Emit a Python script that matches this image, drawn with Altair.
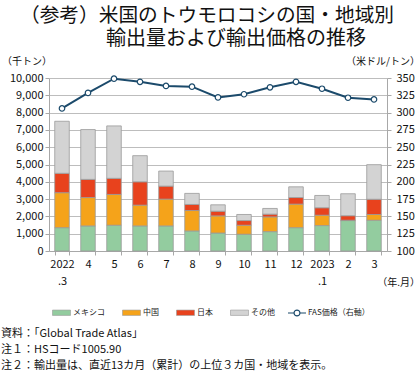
import altair as alt
import pandas as pd

months = ["2022.3", "4", "5", "6", "7", "8", "9", "10", "11", "12", "2023.1", "2", "3"]
mexico = [1350, 1450, 1490, 1450, 1450, 1160, 1040, 970, 1120, 1350, 1470, 1760, 1780]
china = [2020, 1640, 1780, 1200, 1550, 1180, 990, 520, 850, 1360, 600, 20, 330]
japan = [1120, 1050, 930, 1350, 750, 350, 270, 270, 160, 380, 430, 260, 880]
other = [3010, 2880, 3030, 1510, 870, 640, 370, 350, 330, 620, 710, 1270, 2000]
fas_price = [306, 328.5, 349, 344.5, 338.5, 337.5, 322, 326.5, 336.5, 344.5, 334.5, 321.5, 319]

series = ["メキシコ", "中国", "日本", "その他"]
colors = ["#93cc9f", "#f5a31a", "#e8421d", "#d3d3d3"]
line_label = "FAS価格（右軸）"
navy = "#1b4a6b"

title1 = "（参考）米国のトウモロコシの国・地域別"
title2 = "輸出量および輸出価格の推移"
notes = ["資料：「Global Trade Atlas」", "注１：HSコード1005.90",
         "注２：輸出量は、直近13カ月（累計）の上位３カ国・地域を表示。"]

rows = []
for i, m in enumerate(months):
    for k, (s, vals) in enumerate(zip(series, [mexico, china, japan, other])):
        rows.append({"month": m, "series": s, "value": vals[i], "order": k})
bars_df = pd.DataFrame(rows)
line_df = pd.DataFrame({"month": months, "price": fas_price, "label": [line_label] * len(months)})

FONT = "Noto Sans CJK JP"
GRID = "#bdbdbd"
AX = "#a8a8a8"

x_enc = alt.X(
    "month:N", sort=months,
    scale=alt.Scale(paddingInner=0.44, paddingOuter=0.22),
    axis=alt.Axis(
        title=None, labelAngle=0, grid=False, tickBand="extent",
        labelExpr="indexof(datum.label, '.') > 0 ? [substring(datum.label, 0, 4), substring(datum.label, 4)] : datum.label",
        labelFont=FONT, labelFontSize=11, labelColor="#111", labelLineHeight=17,
        labelPadding=3, tickSize=4, tickColor=AX, domainColor=AX,
    ),
)

bars = alt.Chart(bars_df).mark_bar(stroke="#9a9a9a", strokeWidth=0.8).encode(
    x=x_enc,
    y=alt.Y(
        "value:Q", stack="zero",
        scale=alt.Scale(domain=[0, 10000], nice=False),
        axis=alt.Axis(
            title=None, values=list(range(0, 10001, 1000)), format=",.0f",
            labelFont=FONT, labelFontSize=11, labelColor="#111", labelPadding=2,
            tickSize=4, tickColor=AX, domainColor=AX, gridColor=GRID, grid=True,
        ),
    ),
    color=alt.Color(
        "series:N",
        scale=alt.Scale(domain=series, range=colors),
        legend=alt.Legend(
            title=None, orient="none", legendX=3, legendY=225, direction="horizontal",
            symbolType="M-1,-0.3L1,-0.3L1,0.3L-1,0.3Z", symbolSize=324,
            symbolStrokeColor="#9a9a9a", symbolStrokeWidth=0.6, symbolOpacity=1,
            labelFont=FONT, labelFontSize=8, labelColor="#222", labelOffset=2,
            columnPadding=16,
        ),
    ),
    order=alt.Order("order:Q"),
)

line = alt.Chart(line_df).mark_line(
    strokeWidth=2,
    point=alt.OverlayMarkDef(filled=True, fill="white", size=30, strokeWidth=1.2, stroke=navy),
).encode(
    x=alt.X("month:N", sort=months),
    y=alt.Y(
        "price:Q",
        scale=alt.Scale(domain=[100, 350], nice=False, zero=False),
        axis=alt.Axis(
            title=None, orient="right", values=list(range(100, 351, 25)),
            labelFont=FONT, labelFontSize=11, labelColor="#111", labelPadding=5,
            tickSize=4, tickColor=AX, domainColor=AX, grid=False,
        ),
    ),
    stroke=alt.Stroke(
        "label:N",
        scale=alt.Scale(range=[navy]),
        legend=alt.Legend(
            title=None, orient="none", legendX=238, legendY=225,
            symbolType="M-1,0L-0.33,0M0.33,0L1,0M-0.33,0A0.33,0.33,0,1,1,0.33,0A0.33,0.33,0,1,1,-0.33,0Z",
            symbolSize=324, symbolFillColor="white", symbolStrokeWidth=1.2,
            labelFont=FONT, labelFontSize=8, labelColor="#222", labelOffset=1,
        ),
    ),
)


def txt(text, x, y, size, align="left", baseline="middle", **kw):
    return alt.Chart(pd.DataFrame({"t": [text]})).mark_text(
        align=align, baseline=baseline, font=FONT, fontSize=size, color="#111", **kw
    ).encode(x=alt.value(x), y=alt.value(y), text="t:N")


texts = [
    txt(title1, -29, -62, 19.7),
    txt(title2, 57, -39, 20),
    txt("（千トン）", -47, -16, 10),
    txt("（米ドル/トン）", 371, -16, 10, align="right"),
    txt("（年.月）", 371, 205, 10, align="right"),
    txt("\n".join(notes), -48, 250, 11, baseline="top", lineBreak="\n", lineHeight=16),
]

chart = alt.layer(bars, line, *texts).resolve_scale(
    y="independent", color="independent", stroke="independent"
).properties(
    width=338, height=173,
    autosize=alt.AutoSizeParams(type="none"),
    padding={"left": 49, "top": 78, "right": 33, "bottom": 124},
).configure_view(stroke=None)

chart.save("out.html", embed_options={"renderer": "svg", "actions": False})
